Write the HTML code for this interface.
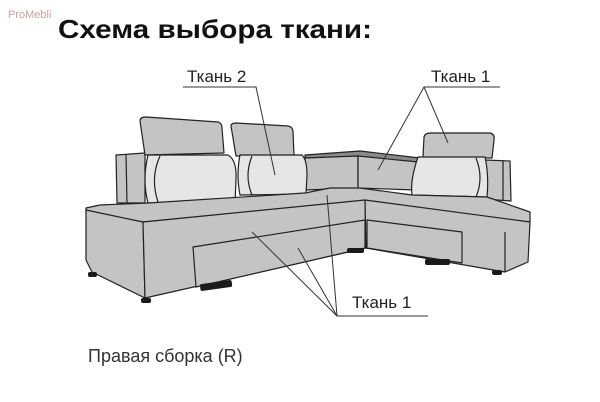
<!DOCTYPE html>
<html><head><meta charset="utf-8"><style>
html,body{margin:0;padding:0;background:#fff;width:600px;height:402px;overflow:hidden}
svg{display:block}
text{font-family:"Liberation Sans",sans-serif}
</style></head><body>
<svg width="600" height="402" viewBox="0 0 600 402" xmlns="http://www.w3.org/2000/svg">
<text x="8" y="18" font-size="11" fill="#c9a0a0">ProMebli</text>
<text x="58" y="38" font-size="26" font-weight="bold" fill="#111" textLength="314" lengthAdjust="spacingAndGlyphs">Схема выбора ткани:</text>

<g stroke="#222" stroke-width="1.2" stroke-linejoin="round">
<!-- back top strip -->
<polygon points="305,155 360,151 420,158 420,163 360,158 305,160" fill="#8a8a8a"/>
<!-- back panels -->
<polygon points="305,158 358,156 358,188 305,190" fill="#c4c4c4"/>
<polygon points="358,156 418,162 416,190 358,188" fill="#c4c4c4"/>
<!-- left armrest block -->
<polygon points="116,155 145,153 145,203 117,203" fill="#c4c4c4"/>
<line x1="126" y1="154" x2="127" y2="203"/>
<!-- right armrest block -->
<polygon points="485,160 510,161 511,201 484,199" fill="#c4c4c4"/>
<line x1="503" y1="161" x2="503" y2="200"/>
<!-- headrests -->
<path d="M140,121 Q140,117 146,117 L218,122 Q222,123 222,128 L224,153 L145,155 Z" fill="#c4c4c4"/>
<path d="M231,126 Q231,123 236,123 L288,126 Q293,127 293,132 L294,155 L236,156 Z" fill="#c4c4c4"/>
<path d="M424,137 Q425,133 430,133 L490,133 Q495,134 494,140 L492,158 L423,157 Z" fill="#c4c4c4"/>
<!-- cushions -->
<path d="M148,155 L228,155 Q237,160 236,180 L235,202 L148,203 Q142,180 148,155 Z" fill="#e6e6e6"/>
<path d="M240,155 L302,155 Q307,160 307,175 L306,194 L240,195 Q236,175 240,155 Z" fill="#e6e6e6"/>
<path d="M418,157 L485,157 Q489,175 487,197 L412,195 Q410,180 418,157 Z" fill="#e6e6e6"/>
<path d="M160,156 Q150,178 158,202" fill="none"/>
<path d="M252,156 Q244,176 252,195" fill="none"/>
<path d="M476,158 Q484,178 476,197" fill="none"/>
<!-- seat top -->
<polygon points="86,208 100,205 148,203 305,193 330,188 360,188 412,195 487,197 530,212 530,222 365,201 143,222 86,214" fill="#c4c4c4"/>
<!-- left front body -->
<polygon points="86,210 143,222 145,298 92,272 86,260" fill="#c4c4c4"/>
<polygon points="143,222 365,200 366,248 145,298" fill="#c4c4c4"/>
<!-- right wing body -->
<polygon points="365,200 530,222 528,262 505,272 366,248" fill="#c4c4c4"/>
<line x1="505" y1="232" x2="505" y2="272"/>
<!-- drawers -->
<polygon points="193,247 365,220 365,248 196,287" fill="#c4c4c4"/>
<polygon points="367,220 462,232 462,263 367,248" fill="#c4c4c4"/>
</g>
<!-- feet -->
<g fill="#1a1a1a">
<rect x="200" y="282" width="32" height="7" rx="2" transform="rotate(-8 216 285)"/>
<rect x="347" y="248" width="17" height="5" rx="2"/>
<rect x="425" y="259" width="25" height="6" rx="2"/>
<rect x="492" y="270" width="10" height="5" rx="2"/>
<rect x="141" y="298" width="10" height="5" rx="2"/>
<rect x="88" y="272" width="9" height="5" rx="2"/>
</g>

<!-- leaders -->
<g stroke="#333" stroke-width="1" fill="none">
<polyline points="183,87 256,87 275,175"/>
<polyline points="378,170 424,87 500,87"/>
<line x1="424" y1="87" x2="448" y2="143"/>
<polyline points="252,232 337,316 428,316"/>
<line x1="298" y1="248" x2="337" y2="316"/>
<line x1="327" y1="195" x2="337" y2="316"/>
</g>
<text x="187" y="82" font-size="17" fill="#222">Ткань 2</text>
<text x="431" y="82" font-size="17" fill="#222">Ткань 1</text>
<text x="352" y="308" font-size="17" fill="#222">Ткань 1</text>
<text x="88" y="362" font-size="18" fill="#333">Правая сборка (R)</text>
</svg>
</body></html>
